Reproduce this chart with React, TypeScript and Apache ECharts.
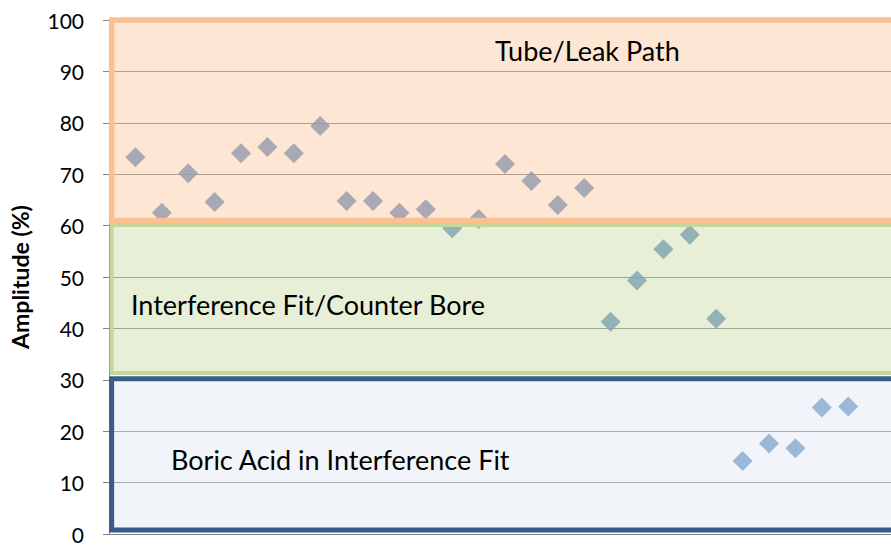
import React, { useEffect, useRef } from "react";
import * as echarts from "echarts";

// Sample index (x) and amplitude (%) values
const sampleIndex = [1, 2, 3, 4, 5, 6, 7, 8, 9, 10, 11, 12, 13, 14, 15, 16, 17, 18, 19, 20, 21, 22, 23, 24, 25, 26, 27, 28];
const amplitude = [73.3, 62.5, 70.2, 64.6, 74.1, 75.3, 74.1, 79.4, 64.8, 64.8, 62.5, 63.2, 59.5, 61.3, 72.0, 68.7, 64.0, 67.3, 41.3, 49.3, 55.4, 58.2, 41.9, 14.2, 17.6, 16.7, 24.6, 24.8];

// Zones: [lower, upper] amplitude bounds
const zoneNames = ["Tube/Leak Path", "Interference Fit/Counter Bore", "Boric Acid in Interference Fit"];
const zoneLower = [61, 31.3, 0.8];
const zoneUpper = [100, 60.1, 30.2];

const yTicks = [0, 10, 20, 30, 40, 50, 60, 70, 80, 90, 100];

const FONT = "Lato, 'Open Sans', sans-serif";

export default function App() {
  const ref = useRef<HTMLDivElement>(null);
  useEffect(() => {
    if (!ref.current) return;
    const chart = echarts.init(ref.current, null, { renderer: "svg" });
    const zoneStyles = [
      { color: "rgba(250,192,144,0.4)", borderColor: "#FAC090", borderWidth: 5.5 },
      { color: "rgba(195,214,155,0.4)", borderColor: "#C3D69B", borderWidth: 4 },
      { color: "rgba(219,229,241,0.4)", borderColor: "#385D8A", borderWidth: 5 },
    ];
    chart.setOption({
      animation: false,
      grid: { left: 108.6, top: 20, bottom: 11, right: 0 },
      xAxis: {
        type: "value",
        min: 0,
        max: 30,
        axisLine: { show: true, lineStyle: { color: "#868686", width: 1 } },
        axisTick: { show: false },
        axisLabel: { show: false },
        splitLine: { show: false },
      },
      yAxis: {
        type: "value",
        min: yTicks[0],
        max: yTicks[yTicks.length - 1],
        interval: 10,
        name: "Amplitude (%)",
        nameLocation: "middle",
        nameGap: 78,
        nameTextStyle: { fontFamily: FONT, fontSize: 23, fontWeight: "bold", color: "#000" },
        axisLine: { show: true, lineStyle: { color: "#868686" } },
        axisTick: { show: true, length: 6, lineStyle: { color: "#868686" } },
        axisLabel: { fontFamily: FONT, fontSize: 21, color: "#000", margin: 25 },
        splitLine: { show: true, lineStyle: { color: "#868686", width: 1 } },
      },
      series: [
        {
          type: "scatter",
          z: 2,
          symbol: "diamond",
          symbolSize: 20,
          itemStyle: { color: "#4F81BD" },
          data: sampleIndex.map((x, i) => [x, amplitude[i]]),
        },
        {
          type: "line",
          z: 5,
          data: [],
          markArea: {
            z: 10,
            silent: true,
            label: { show: false },
            data: zoneNames.map((name, i) => [
              { name, xAxis: 0.1, yAxis: zoneLower[i], itemStyle: zoneStyles[i] },
              { xAxis: "max", yAxis: zoneUpper[i] },
            ]),
          },
        },
      ],
      graphic: [
        { type: "text", left: 495, top: 37, z: 20, style: { text: zoneNames[0], fontFamily: FONT, fontSize: 27, fill: "#000" } },
        { type: "text", left: 131, top: 291, z: 20, style: { text: zoneNames[1], fontFamily: FONT, fontSize: 27, fill: "#000" } },
        { type: "text", left: 171, top: 446, z: 20, style: { text: zoneNames[2], fontFamily: FONT, fontSize: 27, fill: "#000" } },
      ],
    });
    return () => chart.dispose();
  }, []);
  return (
    <div style={{ position: "absolute", left: 0, top: 0, width: 891, height: 545, overflow: "hidden", background: "#fff" }}>
      <div ref={ref} style={{ width: 901, height: 545 }} />
    </div>
  );
}
